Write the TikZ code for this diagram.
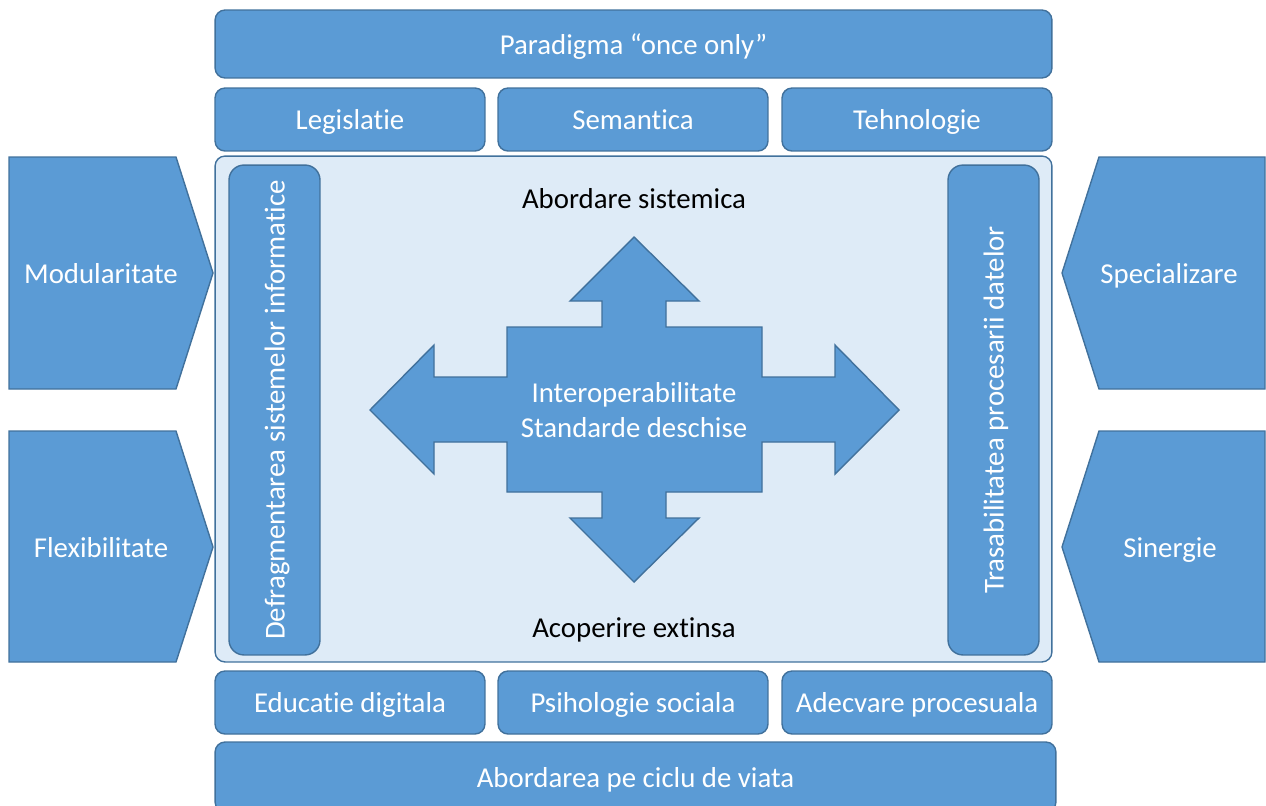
\documentclass[tikz,border=0pt]{standalone}
\usepackage{fontspec}
\setmainfont{Carlito}[Ligatures=NoCommon]
\usetikzlibrary{positioning}
\definecolor{boxblue}{HTML}{5B9BD5}
\definecolor{boxedge}{HTML}{41719C}
\definecolor{panel}{HTML}{DEEBF7}

\begin{document}
\begin{tikzpicture}
		[x=0.02cm,y=-0.02cm,
		font=\fontsize{16.4}{20}\selectfont,
		block/.style ={rectangle, draw=boxedge, fill=boxblue, text=white, rounded corners=0.2cm, inner sep=0pt, outer sep=0pt, line width=0.8pt, text height=13.5pt, text depth=2pt},
		wide/.style ={block, minimum width=16.74cm, minimum height=1.36cm},
		small/.style ={block, minimum width=5.4cm, minimum height=1.26cm},
		pillar/.style ={block, rotate=90, rounded corners=0.3cm, minimum width=9.8cm, minimum height=1.82cm},
		flatshape/.style ={draw=boxedge, fill=boxblue, line width=0.8pt, line join=miter},
		wtext/.style ={text=white, inner sep=0pt, text height=13.5pt, text depth=2pt},
		btext/.style ={text=black, inner sep=0pt, text height=13.5pt, text depth=2pt}]
		\useasboundingbox (0,0) rectangle (1266,805);

		% top
		\node[wide] (para) at (633.5,44) {Paradigma “once only”};
		\node[small] (legis) at (350,119.5) {Legislatie};
		\node[small] (seman) at (633,119.5) {Semantica};
		\node[small] (tehno) at (917,119.5) {Tehnologie};

		% panel
		\node[block, fill=panel, minimum width=16.74cm, minimum height=10.12cm] (panel) at (633.5,409) {};
		\node[pillar] (defrag) at (274.5,410) {Defragmentarea sistemelor informatice};
		\node[pillar] (trasab) at (993.5,410) {Trasabilitatea procesarii datelor};

		\draw[flatshape] (634,237) -- (699,301) -- (666,301) -- (666,327) -- (762,327) -- (762,377) -- (835,377) -- (835,345) -- (899,410) -- (835,474) -- (835,442) -- (762,442) -- (762,492) -- (666,492) -- (666,518) -- (699,518) -- (634,582) -- (570,518) -- (602,518) -- (602,492) -- (507,492) -- (507,442) -- (434,442) -- (434,474) -- (370,410) -- (434,345) -- (434,377) -- (507,377) -- (507,327) -- (602,327) -- (602,301) -- (570,301) -- cycle;
		\node[text=white, inner sep=0pt, align=center] (inter) at (634,410) {Interoperabilitate\\Standarde deschise};
		\node[btext] (sistem) at (634,198) {Abordare sistemica};
		\node[btext] (acop) at (634,627) {Acoperire extinsa};

		% sides
		\draw[flatshape] (9,157) -- (176,157) -- (213,273) -- (176,389) -- (9,389) -- cycle;
		\draw[flatshape] (9,431) -- (176,431) -- (213,547) -- (176,662) -- (9,662) -- cycle;
		\draw[flatshape] (1062,273) -- (1099,157) -- (1265,157) -- (1265,389) -- (1099,389) -- cycle;
		\draw[flatshape] (1062,547) -- (1099,431) -- (1265,431) -- (1265,662) -- (1099,662) -- cycle;
		\node[wtext] (modul) at (101,273) {Modularitate};
		\node[wtext] (flexi) at (101,547) {Flexibilitate};
		\node[wtext] (speci) at (1169,273) {Specializare};
		\node[wtext] (siner) at (1170,547) {Sinergie};

		% bottom
		\node[small] (educ) at (350,702.5) {Educatie digitala};
		\node[small] (psiho) at (633,702.5) {Psihologie sociala};
		\node[small] (adecv) at (917,702.5) {Adecvare procesuala};
		\node[block, minimum width=16.82cm, minimum height=1.4cm] (ciclu) at (635.5,777) {Abordarea pe ciclu de viata};

	\end{tikzpicture}
\end{document}
